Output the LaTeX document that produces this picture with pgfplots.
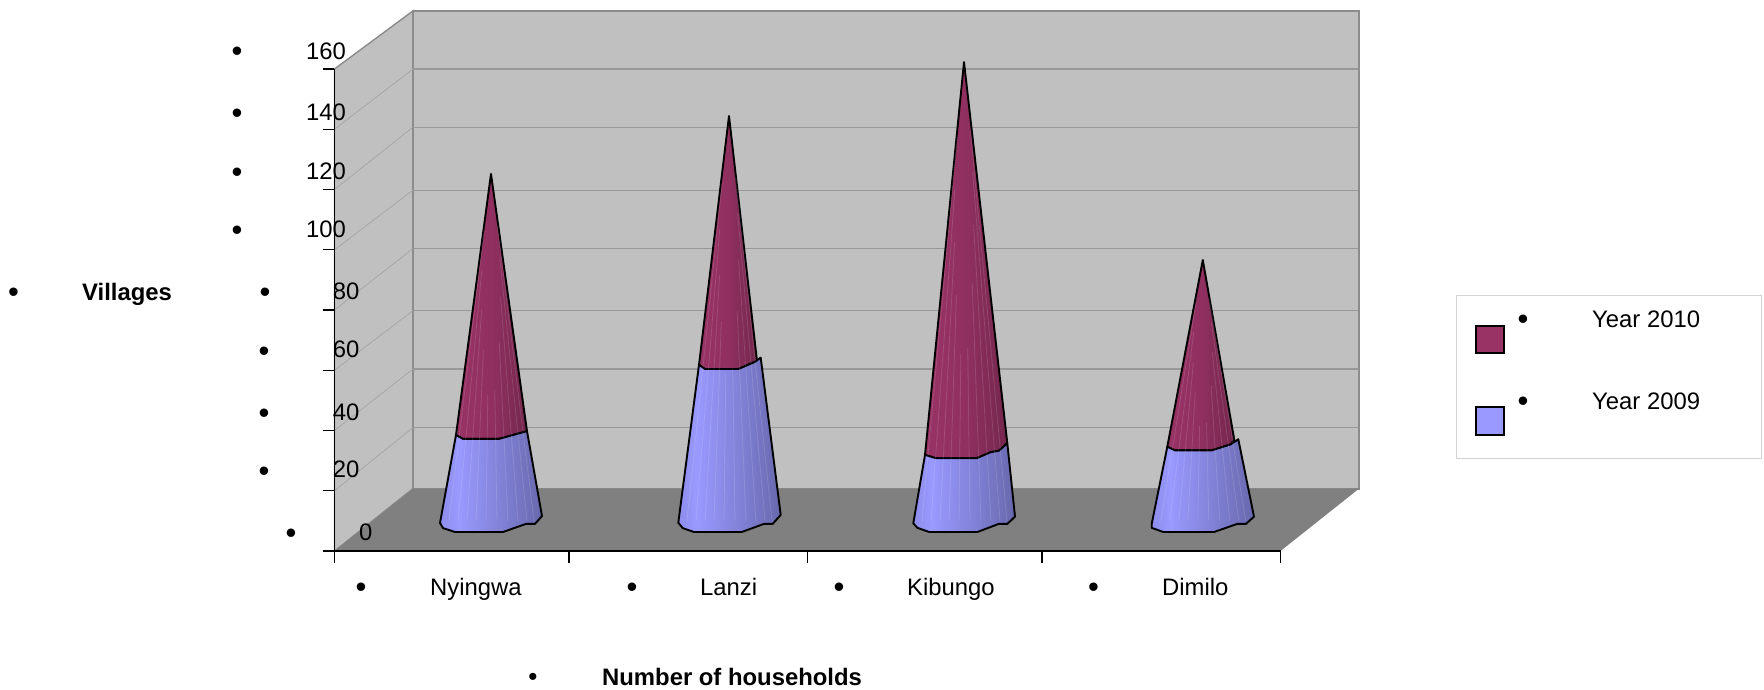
\documentclass[border=0pt]{standalone}
\usepackage{fontspec}
\setmainfont{Liberation Sans}
\usepackage{pgfplots}
\pgfplotsset{compat=1.18}

\definecolor{wall}{HTML}{C0C0C0}
\definecolor{wallline}{HTML}{8C8C8C}
\definecolor{gridline}{HTML}{989898}
\definecolor{sideline}{HTML}{A4A4A4}
\definecolor{floorc}{HTML}{808080}
\definecolor{y2010}{HTML}{993366}
\definecolor{y2009}{HTML}{9999FF}
\definecolor{frameline}{HTML}{D4D4D4}

% Side-to-side shading of the cone surfaces (the path box spans 25bp to 75bp).
\pgfdeclarehorizontalshading{blueface}{100bp}{
  color(0bp)=(y2009!92!black); color(25bp)=(y2009!92!black); color(34bp)=(y2009);
  color(50bp)=(y2009!88!black); color(75bp)=(y2009!68!black); color(100bp)=(y2009!68!black)}
\pgfdeclarehorizontalshading{redface}{100bp}{
  color(0bp)=(y2010); color(25bp)=(y2010); color(50bp)=(y2010!94!black);
  color(75bp)=(y2010!76!black); color(100bp)=(y2010!76!black)}

% Text placed by its left end and baseline, measured from the top left of the page.
\newcommand{\lab}[3]{\node[anchor=base west,inner sep=0pt] at ({#1-334.5},{551-#2}) {#3};}
\newcommand{\bul}[2]{\node[anchor=base,inner sep=0pt] at ({#1-334.5},{551-#2-11.5}) {\fontsize{31}{31}\selectfont\textbullet};}
% Same bullet for the last line of the page, a little smaller so that it stays inside.
\newcommand{\bulsmall}[2]{\node[anchor=base,inner sep=0pt] at ({#1-334.5},{551-#2-9.6}) {\fontsize{26}{26}\selectfont\textbullet};}
% Pale seams of the cone surface, running from the base towards the tip (centre, tip height);
% outer seams reach further up than the central ones.
\newcommand{\seams}[2]{%
  \pgfplotsinvokeforeach{-42,-33,-24,-15,-5,6,17,27,36,43}{%
    \draw[white,opacity=0.13,line width=0.8pt]
      (axis cs:{#1+##1},10) --
      (axis cs:{#1+(1-(0.3+0.55*abs(##1)/43))*##1},{10+(0.3+0.55*abs(##1)/43)*(#2-10)});}}

\begin{document}
\begin{tikzpicture}[x=1pt,y=1pt]
\fontsize{23.85}{28}\selectfont
\useasboundingbox (-334.5,-138) rectangle (1429.5,551);
\begin{axis}[
  at={(0,0)}, anchor=south west,
  scale only axis, width=946pt, height=482pt,
  xmin=0, xmax=946, ymin=0, ymax=160,
  clip=false, axis on top,
  axis x line=bottom, axis y line=left,
  axis line style={-,black,line width=1.3pt},
  xtick={0,234.5,473,707.5,946}, ytick={0,20,...,160},
  xticklabel=\empty, yticklabel=\empty,
  tick align=outside, major tick length=11.5pt,
  tick style={black,line width=1.1pt},
  cone depth/.style={y filter/.expression={y+10.3}},
  cone edge/.style={draw=black,line width=1.9pt,line join=round},
]
% Walls and floor of the box
\addplot[fill=wall,draw=wallline,line width=1.4pt] coordinates {(0,0) (78.5,20.7) (78.5,179.3) (0,160)} --cycle;
\addplot[fill=wall,draw=wallline,line width=1.8pt] coordinates {(78.5,20.7) (1024.5,20.7) (1024.5,179.3) (78.5,179.3)} --cycle;
\addplot[fill=floorc,draw=none] coordinates {(0,0) (946,0) (1024.5,20.7) (78.5,20.7)} --cycle;
% Grid on the back wall
\addplot[gridline,line width=1.1pt] coordinates {(78.5,41.0) (1024.5,41.0)};
\addplot[gridline,line width=1.1pt] coordinates {(78.5,60.4) (1024.5,60.4)};
\addplot[gridline,line width=1.1pt] coordinates {(78.5,79.8) (1024.5,79.8)};
\addplot[gridline,line width=1.1pt] coordinates {(78.5,100.4) (1024.5,100.4)};
\addplot[gridline,line width=1.1pt] coordinates {(78.5,119.8) (1024.5,119.8)};
\addplot[gridline,line width=1.1pt] coordinates {(78.5,140.7) (1024.5,140.7)};
\addplot[gridline,line width=1.1pt] coordinates {(78.5,160.0) (1024.5,160.0)};
% Grid on the side wall
\addplot[sideline,line width=0.7pt] coordinates {(0,20) (78.5,41.0)};
\addplot[sideline,line width=0.7pt] coordinates {(0,40) (78.5,60.4)};
\addplot[sideline,line width=0.7pt] coordinates {(0,60) (78.5,79.8)};
\addplot[sideline,line width=0.7pt] coordinates {(0,80) (78.5,100.4)};
\addplot[sideline,line width=0.7pt] coordinates {(0,100) (78.5,119.8)};
\addplot[sideline,line width=0.7pt] coordinates {(0,120) (78.5,140.7)};
\addplot[sideline,line width=0.7pt] coordinates {(0,140) (78.5,160.0)};

% Nyingwa: 2009 about 28, total about 115
\addplot[cone depth,cone edge,shading=redface] coordinates {(121.5,28.2) (156.5,114.9) (192.5,29.5) (164.5,26.9) (128.5,26.9)} --cycle;
\addplot[cone depth,cone edge,shading=blueface] coordinates {(105.5,-1.0) (108.5,-2.7) (120.5,-4.0) (168.5,-4.0) (191.5,-1.3) (200.5,-1.3) (207.5,1.3) (192.5,29.5) (164.5,26.9) (128.5,26.9) (121.5,28.2)} --cycle;
\seams{156.5}{125.2}
% Lanzi: 2009 about 51, total about 134
\addplot[cone depth,cone edge,shading=redface] coordinates {(364.5,51.5) (394.5,134.1) (422.5,52.8) (403.8,50.1) (370.5,50.1)} --cycle;
\addplot[cone depth,cone edge,shading=blueface] coordinates {(343.8,-0.9) (348.2,-2.7) (359.5,-4.0) (407.2,-4.0) (429.5,-1.3) (438.2,-1.3) (446.2,1.7) (426.2,53.9) (420.5,52.5) (403.8,50.1) (370.5,50.1) (364.5,51.5)} --cycle;
\seams{394.5}{144.4}
% Kibungo: 2009 about 21, total about 152
\addplot[cone depth,cone edge,shading=redface] coordinates {(590.5,21.6) (629.5,152.0) (672.8,25.5) (664.5,23.0) (656.2,22.5) (642.2,20.5) (601.5,20.5)} --cycle;
\addplot[cone depth,cone edge,shading=blueface] coordinates {(578.8,-1.1) (582.8,-2.6) (594.8,-4.0) (642.8,-4.0) (664.2,-1.3) (672.8,-1.3) (680.5,1.1) (672.8,25.5) (664.5,23.0) (656.2,22.5) (642.2,20.5) (601.5,20.5) (590.5,21.6)} --cycle;
\seams{629.5}{162.3}
% Dimilo: 2009 about 24, total about 86
\addplot[cone depth,cone edge,shading=redface] coordinates {(832.8,24.3) (868.3,86.3) (899.8,26.6) (896.2,25.1) (877.2,23.1) (840.5,23.1)} --cycle;
\addplot[cone depth,cone edge,shading=blueface] coordinates {(817.2,-1.3) (817.2,-2.6) (828.8,-4.0) (879.5,-4.0) (902.8,-1.3) (911.5,-1.3) (919.5,1.1) (903.8,26.8) (896.2,25.1) (877.2,23.1) (840.5,23.1) (832.8,24.3)} --cycle;
\seams{868.3}{96.6}
\end{axis}

% Value axis labels
\bul{237}{50}\lab{306}{59.5}{160}
\bul{237}{112}\lab{306}{120.7}{140}
\bul{237}{171}\lab{306}{180}{120}
\bul{237}{229}\lab{306}{238}{100}
\bul{265}{291}\lab{332.7}{299.5}{80}
\bul{264}{350}\lab{332.7}{357.5}{60}
\bul{264}{412}\lab{332.7}{420.5}{40}
\bul{264}{470}\lab{332.7}{477.5}{20}
\bul{291}{532}\lab{359}{540.5}{0}
\bul{13.5}{291}\lab{82}{300}{\bfseries Villages}

% Category labels and axis title
\bul{361}{586}\lab{430}{595}{Nyingwa}
\bul{632}{586}\lab{700}{595}{Lanzi}
\bul{839}{586}\lab{907}{595}{Kibungo}
\bul{1093.5}{586}\lab{1162}{595}{Dimilo}
\bulsmall{533}{675.5}\lab{602}{685}{\bfseries Number of households}

% Legend
\draw[frameline,line width=1pt] ({1456.7-334.5},{551-295}) rectangle ({1761.7-334.5},{551-458});
\draw[black,line width=1.5pt,fill=y2010] ({1476-334.5},{551-326}) rectangle ({1504-334.5},{551-353});
\draw[black,line width=1.5pt,fill=y2009] ({1476-334.5},{551-407}) rectangle ({1504-334.5},{551-435});
\bul{1523}{318}\lab{1592}{327}{Year 2010}
\bul{1523}{400}\lab{1592}{409}{Year 2009}
\end{tikzpicture}
\end{document}
